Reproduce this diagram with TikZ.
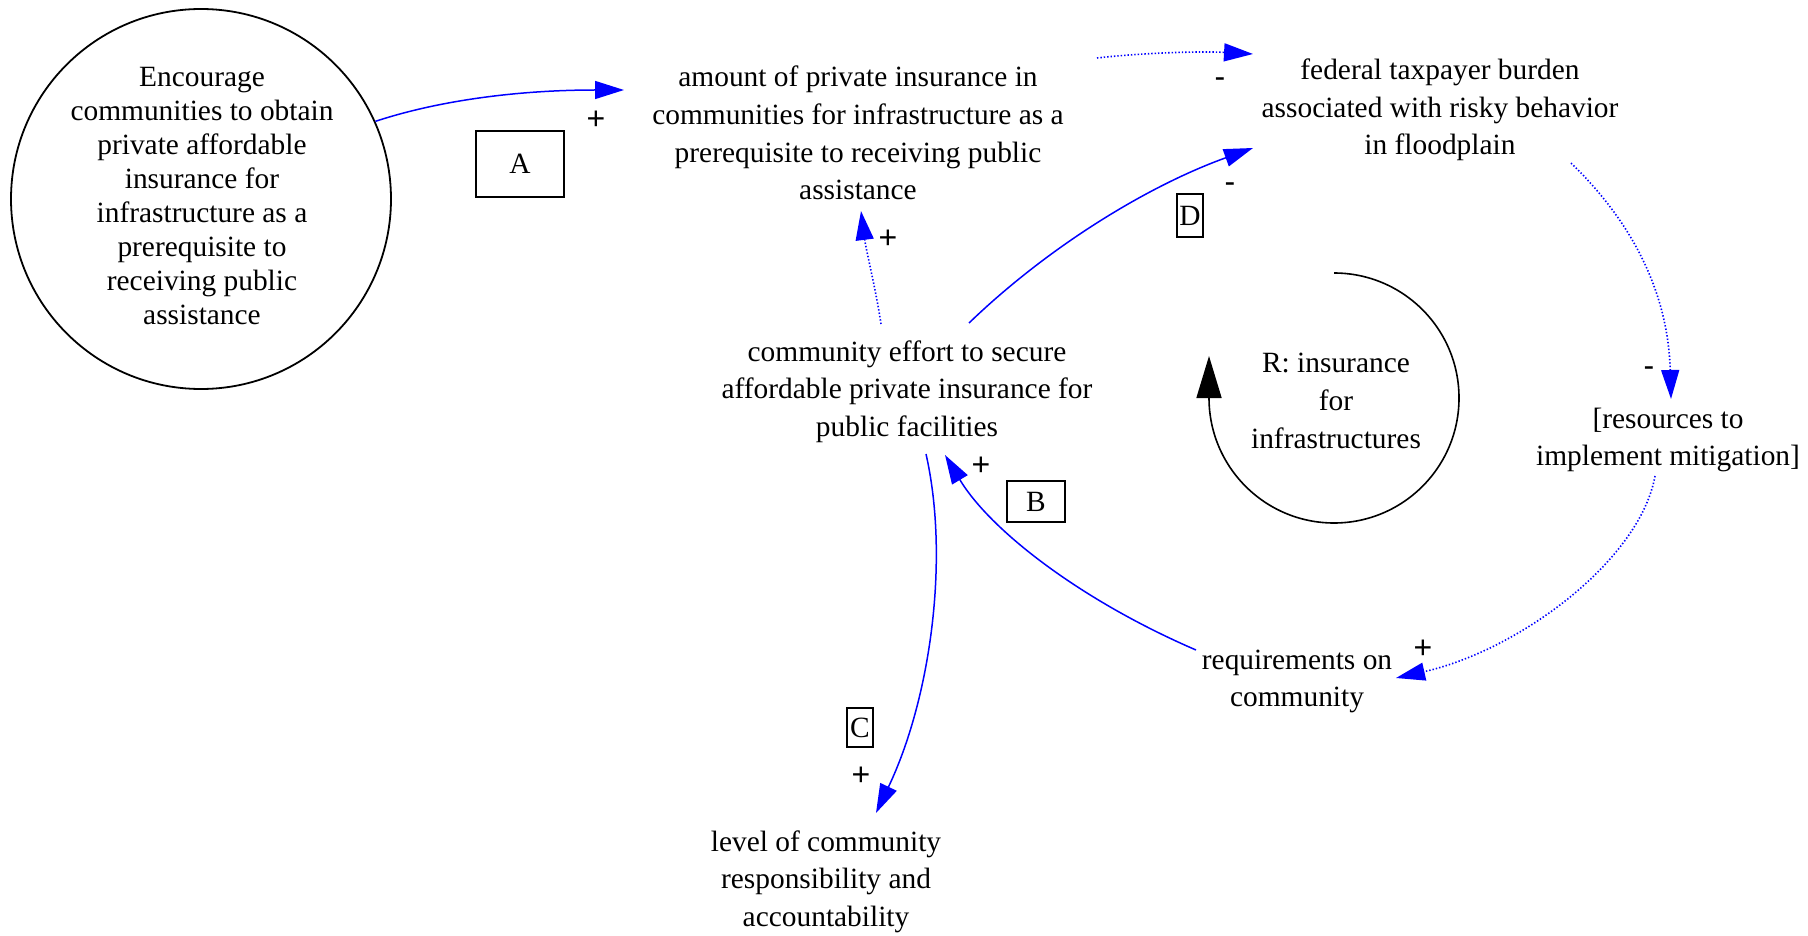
\documentclass[tikz,border=0pt]{standalone}
\usepackage{fontspec}
\setmainfont{Liberation Serif}
\newfontfamily\lblfont{Liberation Sans}
\usetikzlibrary{arrows.meta,calc}
\begin{document}
\begin{tikzpicture}[x=0.5pt,y=-0.5pt,
  txt/.style={align=center,inner sep=0pt,font=\fontsize{14.7}{18.8}\selectfont},
  lbl/.style={inner sep=0pt,font=\lblfont\fontsize{16}{18}\selectfont},
  letterbox/.style={draw,line width=0.8pt,inner sep=0pt,font=\fontsize{14.7}{17}\selectfont},
  blink/.style={line width=0.75pt,color=blue,-{Triangle[length=14.5pt,width=9pt]}},
  dlink/.style={blink,line width=0.8pt,dash pattern=on 0.7pt off 1.0pt},
  loopline/.style={line width=0.8pt,black,-{Triangle[length=21pt,width=12.5pt]}}]
\fill[white] (0,0) rectangle (1808,936);
\useasboundingbox (0,0) rectangle (1808,936);

% nodes
\node[circle,draw,line width=0.9pt,minimum size=190pt,inner sep=0pt] (circ) at (201,199) {};
\node[txt,font=\fontsize{14.7}{17}\selectfont] (circtext) at (202,196) {Encourage\\communities to obtain\\private affordable\\insurance for\\infrastructure as a\\prerequisite to\\receiving public\\assistance};
\node[txt] (amount) at (858,133) {amount of private insurance in\\communities for infrastructure as a\\prerequisite to receiving public\\assistance};
\node[txt] (federal) at (1440,110) {federal taxpayer burden\\associated with risky behavior\\in floodplain};
\node[txt] (effort) at (907,391.5) {community effort to secure\\affordable private insurance for\\public facilities};
\node[txt] (R) at (1336,401) {R: insurance\\for\\infrastructures};
\node[txt] (resources) at (1668,440) {[resources to\\implement mitigation]};
\node[txt] (requirements) at (1297,681.5) {requirements on\\community};
\node[txt] (level) at (826,881.5) {level of community\\responsibility and\\accountability};

% letter boxes
\node[letterbox,minimum width=44pt,minimum height=33pt] (boxA) at (520,164) {A};
\node[letterbox,minimum width=29pt,minimum height=20.5pt] (boxB) at (1036,501.5) {B};
\node[letterbox,minimum width=13pt,minimum height=19.5pt] (boxC) at (860,727.5) {C};
\node[letterbox,minimum width=13pt,minimum height=21.5pt] (boxD) at (1190,215.5) {D};

% loop
\coordinate (loopc) at (1334,398);
\draw[loopline] ($(loopc)+(0,-125)$) arc[start angle=270,end angle=540,radius=125] -- ++(0,-42);

% connectors
\draw[blink] (circ.24) .. controls (440,100) and (520,90) .. ($(amount)+(-234,-43)$);
\draw[dlink] ($(amount)+(239,-75)$) .. controls (1140,53) and (1200,51) .. ($(federal)+(-187,-56)$);
\draw[blink] ($(effort)+(62,-68.5)$) .. controls (1050,245) and (1150,185) .. ($(federal)+(-187,38)$);
\draw[dlink] ($(effort)+(-26,-67.5)$) .. controls (876,290) and (866,250) .. ($(amount)+(3,78)$);
\draw[dlink] ($(federal)+(131,53)$) .. controls (1630,220) and (1668,290) .. ($(resources)+(3,-41)$);
\draw[dlink] ($(resources)+(-13,36)$) .. controls (1640,560) and (1520,650) .. ($(requirements)+(99,-3.5)$);
\draw[blink] ($(requirements)+(-101,-31.5)$) .. controls (1080,600) and (990,530) .. ($(effort)+(38,63.5)$);
\draw[blink] ($(effort)+(19,62.5)$) .. controls (950,560) and (930,700) .. ($(level)+(50,-68.5)$);

% polarity labels
\node[lbl] (p1) at (596,120) {+};
\node[lbl] (p2) at (1220,83) {-};
\node[lbl] (p3) at (1230,188) {-};
\node[lbl] (p4) at (888,239) {+};
\node[lbl] (p5) at (1649,372) {-};
\node[lbl] (p6) at (1423,649) {+};
\node[lbl] (p7) at (981,466) {+};
\node[lbl] (p8) at (861,776) {+};
\end{tikzpicture}
\end{document}
